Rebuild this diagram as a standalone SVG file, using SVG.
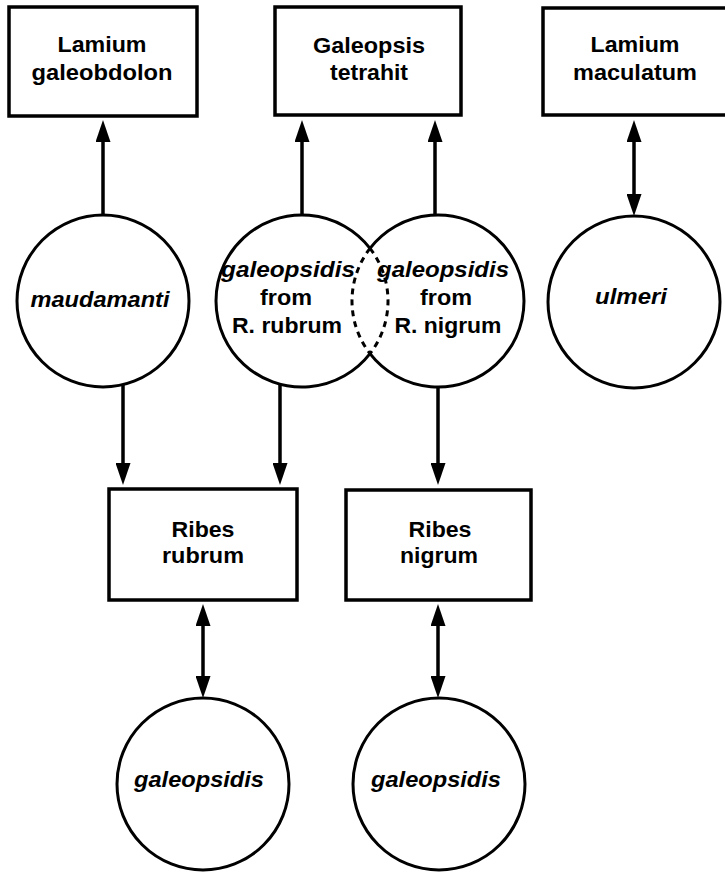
<svg xmlns="http://www.w3.org/2000/svg" width="725" height="873" viewBox="0 0 725 873">
  <style>
    .box { fill: #fff; stroke: #000; stroke-width: 3.5; }
    .circ { fill: #fff; stroke: #000; stroke-width: 3; }
    .arc { fill: none; stroke: #000; stroke-width: 3; }
    .dash { fill: none; stroke: #000; stroke-width: 3; stroke-dasharray: 6 5; }
    .lbl { font-family: "Liberation Sans", Arial, Helvetica, sans-serif; font-weight: bold; font-size: 22px; fill: #000; text-anchor: middle; }
    .sp { font-style: italic; }
    .conn line { stroke: #000; stroke-width: 3.5; }
  </style>
  <defs>
    <marker id="ah" viewBox="0 0 22 15" refX="14" refY="7.5" markerWidth="22" markerHeight="15" markerUnits="userSpaceOnUse" orient="auto-start-reverse">
      <path d="M0,0 L22,7.5 L0,15 z" fill="#000"/>
    </marker>
  </defs>
  <rect width="725" height="873" fill="#fff"/>

  <!-- host plants -->
  <g id="lamium-galeobdolon">
    <rect class="box" x="9" y="7" width="188" height="109"/>
    <text class="lbl" x="102" y="52" textLength="89" lengthAdjust="spacingAndGlyphs">Lamium</text>
    <text class="lbl" x="102" y="80" textLength="141" lengthAdjust="spacingAndGlyphs">galeobdolon</text>
  </g>
  <g id="galeopsis-tetrahit">
    <rect class="box" x="275" y="7" width="186" height="108"/>
    <text class="lbl" x="369" y="53" textLength="112" lengthAdjust="spacingAndGlyphs">Galeopsis</text>
    <text class="lbl" x="369" y="80" textLength="78" lengthAdjust="spacingAndGlyphs">tetrahit</text>
  </g>
  <g id="lamium-maculatum">
    <rect class="box" x="543" y="8" width="185" height="107"/>
    <text class="lbl" x="635" y="52" textLength="89" lengthAdjust="spacingAndGlyphs">Lamium</text>
    <text class="lbl" x="635" y="80" textLength="124" lengthAdjust="spacingAndGlyphs">maculatum</text>
  </g>
  <g id="ribes-rubrum">
    <rect class="box" x="109" y="489" width="188" height="111"/>
    <text class="lbl" x="203" y="537" textLength="63" lengthAdjust="spacingAndGlyphs">Ribes</text>
    <text class="lbl" x="203" y="563" textLength="82" lengthAdjust="spacingAndGlyphs">rubrum</text>
  </g>
  <g id="ribes-nigrum">
    <rect class="box" x="346" y="490" width="185" height="110"/>
    <text class="lbl" x="440" y="537" textLength="63" lengthAdjust="spacingAndGlyphs">Ribes</text>
    <text class="lbl" x="439" y="563" textLength="78" lengthAdjust="spacingAndGlyphs">nigrum</text>
  </g>

  <!-- aphid forms -->
  <g id="maudamanti">
    <circle class="circ" cx="103" cy="301" r="86"/>
    <text class="lbl sp" x="100" y="307" textLength="139" lengthAdjust="spacingAndGlyphs">maudamanti</text>
  </g>
  <g id="ulmeri">
    <circle class="circ" cx="634" cy="302" r="86"/>
    <text class="lbl sp" x="631" y="304" textLength="72" lengthAdjust="spacingAndGlyphs">ulmeri</text>
  </g>
  <!-- overlapping pair: solid outer outline, dashed inner arcs -->
  <g id="galeopsidis-rubrum">
    <path class="arc" d="M370,248.35 A86,86 0 1 0 370,353.65"/>
    <path class="dash" d="M370,248.35 A86,86 0 0 1 370,353.65"/>
    <text class="lbl sp" x="288" y="277" textLength="134" lengthAdjust="spacingAndGlyphs">galeopsidis</text>
    <text class="lbl" x="286" y="305" textLength="52" lengthAdjust="spacingAndGlyphs">from</text>
    <text class="lbl" x="287" y="333" textLength="110" lengthAdjust="spacingAndGlyphs">R. rubrum</text>
  </g>
  <g id="galeopsidis-nigrum">
    <path class="arc" d="M370,248.35 A86,86 0 1 1 370,353.65"/>
    <path class="dash" d="M370,248.35 A86,86 0 0 0 370,353.65"/>
    <text class="lbl sp" x="443" y="277" textLength="132" lengthAdjust="spacingAndGlyphs">galeopsidis</text>
    <text class="lbl" x="446" y="305" textLength="52" lengthAdjust="spacingAndGlyphs">from</text>
    <text class="lbl" x="448" y="333" textLength="107" lengthAdjust="spacingAndGlyphs">R. nigrum</text>
  </g>
  <g id="galeopsidis-left">
    <circle class="circ" cx="203" cy="784" r="86"/>
    <text class="lbl sp" x="199" y="787" textLength="130" lengthAdjust="spacingAndGlyphs">galeopsidis</text>
  </g>
  <g id="galeopsidis-right">
    <circle class="circ" cx="439" cy="784" r="86"/>
    <text class="lbl sp" x="436" y="787" textLength="130" lengthAdjust="spacingAndGlyphs">galeopsidis</text>
  </g>

  <!-- connectors -->
  <g id="connectors" class="conn">
    <line x1="103" y1="214" x2="103" y2="128" marker-end="url(#ah)"/>
    <line x1="302" y1="214" x2="302" y2="128" marker-end="url(#ah)"/>
    <line x1="435" y1="214" x2="435" y2="128" marker-end="url(#ah)"/>
    <line x1="634" y1="208" x2="634" y2="128" marker-start="url(#ah)" marker-end="url(#ah)"/>
    <line x1="123" y1="385" x2="123" y2="477" marker-end="url(#ah)"/>
    <line x1="280" y1="385" x2="280" y2="477" marker-end="url(#ah)"/>
    <line x1="438" y1="387" x2="438" y2="477" marker-end="url(#ah)"/>
    <line x1="203" y1="612" x2="203" y2="690" marker-start="url(#ah)" marker-end="url(#ah)"/>
    <line x1="438" y1="612" x2="438" y2="690" marker-start="url(#ah)" marker-end="url(#ah)"/>
  </g>
</svg>
